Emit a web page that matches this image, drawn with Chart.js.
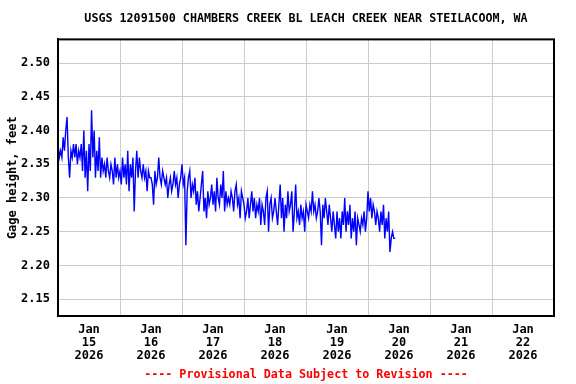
<!DOCTYPE html>
<html>
<head>
<meta charset="utf-8">
<script src="https://cdn.jsdelivr.net/npm/chart.js@4.4.0/dist/chart.umd.min.js"></script>
<style>
  body { margin: 0; background: #fff; }
</style>
</head>
<body>
<canvas id="grafico" width="576" height="384"></canvas>
<script>
// Gage height, feet - one value every 30 minutes, starting Jan 15 2026 00:00
const stepHours = 0.5;
const jan15 = [2.38, 2.36, 2.37, 2.36, 2.39, 2.37, 2.40, 2.42, 2.36, 2.33, 2.37, 2.36,
               2.38, 2.36, 2.38, 2.35, 2.37, 2.36, 2.38, 2.34, 2.40, 2.33, 2.37, 2.31,
               2.38, 2.34, 2.43, 2.36, 2.40, 2.33, 2.37, 2.34, 2.39, 2.33, 2.36, 2.34,
               2.35, 2.33, 2.36, 2.34, 2.33, 2.35, 2.34, 2.32, 2.36, 2.33, 2.35, 2.33];
const jan16 = [2.34, 2.32, 2.36, 2.33, 2.35, 2.32, 2.37, 2.31, 2.35, 2.33, 2.36, 2.28,
               2.34, 2.37, 2.33, 2.36, 2.34, 2.33, 2.35, 2.33, 2.34, 2.31, 2.34, 2.33,
               2.33, 2.32, 2.29, 2.34, 2.32, 2.33, 2.36, 2.33, 2.32, 2.34, 2.33, 2.32,
               2.33, 2.30, 2.32, 2.33, 2.31, 2.32, 2.34, 2.32, 2.33, 2.30, 2.32, 2.33];
const jan17 = [2.35, 2.32, 2.33, 2.23, 2.31, 2.33, 2.34, 2.30, 2.32, 2.31, 2.33, 2.29,
               2.31, 2.28, 2.30, 2.32, 2.34, 2.28, 2.30, 2.27, 2.31, 2.29, 2.30, 2.32,
               2.29, 2.31, 2.28, 2.33, 2.30, 2.29, 2.32, 2.30, 2.34, 2.28, 2.31, 2.29,
               2.30, 2.29, 2.31, 2.30, 2.28, 2.31, 2.32, 2.29, 2.30, 2.27, 2.31, 2.30];
const jan18 = [2.29, 2.27, 2.28, 2.30, 2.27, 2.29, 2.31, 2.28, 2.30, 2.27, 2.29, 2.28,
               2.30, 2.26, 2.29, 2.28, 2.26, 2.30, 2.31, 2.25, 2.29, 2.30, 2.27, 2.28,
               2.30, 2.28, 2.26, 2.29, 2.32, 2.27, 2.30, 2.25, 2.29, 2.27, 2.31, 2.28,
               2.29, 2.31, 2.25, 2.28, 2.32, 2.27, 2.28, 2.26, 2.29, 2.27, 2.28, 2.25];
const jan19 = [2.29, 2.28, 2.27, 2.29, 2.28, 2.31, 2.28, 2.29, 2.27, 2.28, 2.30, 2.28,
               2.23, 2.29, 2.27, 2.30, 2.28, 2.26, 2.29, 2.27, 2.25, 2.28, 2.26, 2.24,
               2.28, 2.25, 2.27, 2.24, 2.28, 2.26, 2.30, 2.25, 2.28, 2.26, 2.29, 2.24,
               2.27, 2.25, 2.28, 2.23, 2.27, 2.26, 2.25, 2.27, 2.26, 2.28, 2.25, 2.27];
const jan20 = [2.31, 2.28, 2.30, 2.27, 2.29, 2.28, 2.26, 2.28, 2.27, 2.25, 2.28, 2.26,
               2.29, 2.24, 2.27, 2.25, 2.28, 2.22, 2.24, 2.25, 2.24, 2.24];

// eixo x: rótulos dos dias (centro de cada dia)
const dayLabels = ['15', '16', '17', '18', '19', '20', '21', '22'];
const monthLabel = 'Jan';
const yearLabel = '2026';
// eixo y
const yTicks = [2.15, 2.20, 2.25, 2.30, 2.35, 2.40, 2.45, 2.50];

const gageHeight = [].concat(jan15, jan16, jan17, jan18, jan19, jan20);
const points = gageHeight.map((v, i) => ({ x: i * stepHours, y: v }));

const fonte = 'DejaVu Sans Mono';

// Desenha a moldura preta em volta da área do gráfico
const moldura = {
    id: 'moldura',
    afterDraw(chart) {
        const { ctx, chartArea: a } = chart;
        ctx.save();
        ctx.strokeStyle = '#000';
        ctx.lineWidth = 2;
        ctx.strokeRect(a.left, a.top, a.right - a.left, a.bottom - a.top);
        ctx.restore();
    }
};

const ctx = document.getElementById('grafico').getContext('2d');
new Chart(ctx, {
    type: 'line',
    data: {
        datasets: [{
            label: 'Gage height',
            data: points,
            borderColor: '#0000ff',
            borderWidth: 1.4,
            pointRadius: 0,
            tension: 0
        }]
    },
    options: {
        responsive: false,
        animation: false,
        layout: { padding: { left: 0, right: 22, top: 0, bottom: 0 } },
        plugins: {
            legend: { display: false },
            tooltip: { enabled: false },
            title: {
                display: true,
                fullSize: false,
                text: 'USGS 12091500 CHAMBERS CREEK BL LEACH CREEK NEAR STEILACOOM, WA',
                color: '#000',
                font: { family: fonte, size: 11.7, weight: 'bold', lineHeight: 1.23 },
                padding: { top: 12, bottom: 13 }
            },
            subtitle: {
                display: true,
                fullSize: false,
                position: 'bottom',
                text: '---- Provisional Data Subject to Revision ----',
                color: '#ff0000',
                font: { family: fonte, size: 11.7, weight: 'bold', lineHeight: 1.11 },
                padding: { top: 6, bottom: 3 }
            }
        },
        scales: {
            x: {
                type: 'linear',
                min: 0,
                max: 192,
                afterBuildTicks: (scale) => {
                    const t = [];
                    for (let h = 0; h <= 192; h += 12) t.push({ value: h });
                    scale.ticks = t;
                },
                afterFit: (scale) => { scale.height = 46; },
                ticks: {
                    autoSkip: false,
                    maxRotation: 0,
                    padding: 7,
                    color: '#000',
                    font: { family: fonte, size: 12, weight: 'bold', lineHeight: 1.083 },
                    callback: (v) => {
                        if (v % 24 !== 12) return '';
                        return [monthLabel, dayLabels[(v - 12) / 24], yearLabel];
                    }
                },
                grid: {
                    drawTicks: false,
                    color: (c) => (c.tick && c.tick.value % 24 === 0) ? '#cccccc' : 'rgba(0,0,0,0)',
                    lineWidth: 1
                },
                border: { display: true, color: '#000', width: 2 }
            },
            y: {
                min: 2.125,
                max: 2.535,
                afterBuildTicks: (scale) => {
                    scale.ticks = yTicks.map(v => ({ value: v }));
                },
                afterFit: (scale) => { scale.width = 58; },
                ticks: {
                    padding: 8,
                    color: '#000',
                    font: { family: fonte, size: 12, weight: 'bold' },
                    callback: (v) => Number(v).toFixed(2)
                },
                grid: { drawTicks: false, color: '#cccccc', lineWidth: 1 },
                border: { display: true, color: '#000', width: 2 },
                title: {
                    display: true,
                    text: 'Gage height, feet',
                    color: '#000',
                    font: { family: fonte, size: 12, weight: 'bold' },
                    padding: { top: 6, bottom: 0 }
                }
            }
        }
    },
    plugins: [moldura]
});
</script>
</body>
</html>
